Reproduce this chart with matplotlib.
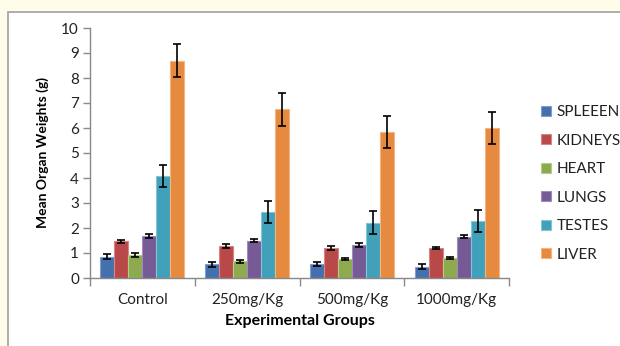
import matplotlib
matplotlib.use("Agg")
import matplotlib.pyplot as plt
import numpy as np
from matplotlib.patches import Rectangle

groups = ["Control", "250mg/Kg", "500mg/Kg", "1000mg/Kg"]
organs = ["SPLEEEN", "KIDNEYS", "HEART", "LUNGS", "TESTES", "LIVER"]
spleen = [0.85, 0.55, 0.58, 0.45]
kidneys = [1.48, 1.30, 1.20, 1.20]
heart = [0.93, 0.68, 0.77, 0.80]
lungs = [1.68, 1.50, 1.33, 1.65]
testes = [4.08, 2.65, 2.22, 2.28]
liver = [8.70, 6.75, 5.85, 6.00]
spleen_err = [0.10, 0.10, 0.08, 0.10]
kidneys_err = [0.06, 0.08, 0.07, 0.05]
heart_err = [0.07, 0.06, 0.05, 0.04]
lungs_err = [0.07, 0.07, 0.07, 0.06]
testes_err = [0.45, 0.45, 0.45, 0.45]
liver_err = [0.65, 0.65, 0.65, 0.65]

values = [spleen, kidneys, heart, lungs, testes, liver]
errors = [spleen_err, kidneys_err, heart_err, lungs_err, testes_err, liver_err]
colors = ["#4470AE", "#B94948", "#8DAA4F", "#765A96", "#41A0BA", "#E58A3F"]
edges = ["#7F9FCC", "#D68584", "#B5CC8C", "#A08BBA", "#86C5D6", "#F3B583"]

plt.rcParams['font.family'] = ['Lato', 'DejaVu Sans']

fig = plt.figure(figsize=(6.2, 3.46), dpi=100)
fig.patch.set_facecolor("#FFFDE9")
box = Rectangle((8/620, -0.1), 1.0, 1 - 12/346 + 0.1, transform=fig.transFigure,
                facecolor="white", edgecolor="#A0A0A0", linewidth=1.2, zorder=-10)
fig.patches.append(box)

ax = fig.add_axes([90/620, 1 - 278/346, (509 - 90)/620, 250/346])
ax.set_zorder(5)
ax.set_facecolor("none")
n = len(organs)
w = 0.8 / n
x = np.arange(len(groups))
for i in range(n):
    pos = x - 0.4 + w * (i + 0.5)
    ax.bar(pos, values[i], width=w, color=colors[i], edgecolor=edges[i], linewidth=0.8,
           label=organs[i], zorder=2)
    ax.errorbar(pos, values[i], yerr=errors[i], fmt="none", ecolor="black",
                elinewidth=1.2, capsize=3, capthick=1.2, zorder=3)

ax.set_xlim(-0.5, len(groups) - 0.5)
ax.set_ylim(0, 10)
ax.set_yticks(range(0, 11))
ax.set_xticks(np.arange(len(groups) + 1) - 0.5)
ax.set_xticklabels([])
ax.set_xticks(x, minor=True)
ax.set_xticklabels(groups, minor=True)
ax.tick_params(axis="x", which="major", length=6, color="#888888", width=1)
ax.tick_params(axis="x", which="minor", length=0, pad=11, labelsize=11, labelcolor="#222222")
ax.tick_params(axis="y", length=5, color="#888888", width=1, labelsize=11, labelcolor="#222222", pad=3)
for s in ["top", "right"]:
    ax.spines[s].set_visible(False)
for s in ["left", "bottom"]:
    ax.spines[s].set_color("#888888")
    ax.spines[s].set_linewidth(1)
ax.set_xlabel("Experimental Groups", fontsize=11.5, fontweight="bold", labelpad=5)
ax.set_ylabel("Mean Organ Weights (g)", fontsize=10, fontweight="bold", labelpad=9)

handles, labels = ax.get_legend_handles_labels()
leg = fig.legend(handles, labels, loc="upper left", bbox_to_anchor=(535/620, 1 - 99/346),
                 frameon=False, fontsize=11, labelspacing=0.95, handlelength=0.65,
                 handleheight=0.65, handletextpad=0.35, borderaxespad=0)
for t in leg.get_texts():
    t.set_color("#222222")

fig.savefig("out.png", dpi=100, facecolor=fig.get_facecolor())
